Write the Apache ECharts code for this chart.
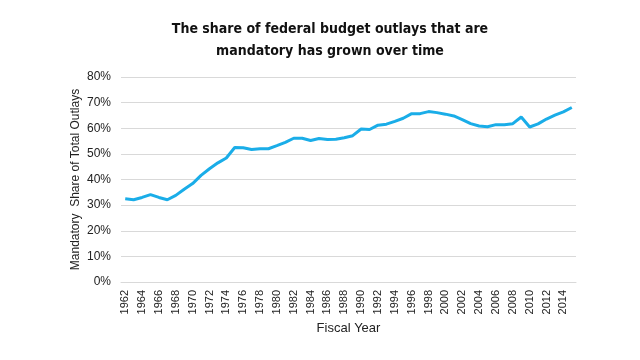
<!DOCTYPE html>
<html><head><meta charset="utf-8">
<script src="https://cdn.jsdelivr.net/npm/echarts@6/dist/echarts.min.js"></script>
<style>html,body{margin:0;padding:0;background:#fff}#c{width:640px;height:360px}</style>
</head><body><div id="c"></div>
<script>
const years = [];
for (let y = 1962; y <= 2015; y++) years.push(String(y));
const mandatoryShare = [32.5,32.1,33.0,34.1,33.0,32.1,33.8,36.2,38.4,41.6,44.2,46.5,48.4,52.5,52.4,51.7,52.0,52.0,53.2,54.5,56.1,56.1,55.2,56.0,55.6,55.7,56.3,57.1,59.7,59.5,61.2,61.6,62.7,63.9,65.7,65.7,66.5,66.1,65.5,64.8,63.4,61.8,60.9,60.6,61.4,61.4,61.8,64.4,60.5,61.7,63.6,65.1,66.4,68.1];
const yTicks = [0,10,20,30,40,50,60,70,80];
const chart = echarts.init(document.getElementById('c'), null, {renderer:'canvas'});
chart.setOption({
  animation:false,
  title:{text:'The share of federal budget outlays that are\nmandatory has grown over time', left:325, textAlign:'center', top:13,
    textStyle:{fontFamily:'DejaVu Sans Condensed', fontWeight:'bold', fontSize:14, color:'#111', lineHeight:22}},
  grid:{left:121, right:64, top:77, bottom:78},
  xAxis:{type:'category', data:years, boundaryGap:true,
    name:'Fiscal Year', nameLocation:'middle', nameGap:40,
    nameTextStyle:{fontFamily:'Liberation Sans', fontSize:13, color:'#222'},
    axisLine:{show:true, lineStyle:{color:'#d9d9d9'}}, axisTick:{show:false},
    axisLabel:{interval:1, rotate:90, fontFamily:'Liberation Sans', fontSize:11, color:'#222', margin:8}},
  yAxis:{type:'value', min:yTicks[0], max:yTicks[yTicks.length-1], interval:10,
    name:'Mandatory  Share of Total Outlays', nameLocation:'middle', nameGap:39, nameMoveOverlap:false,
    nameTextStyle:{fontFamily:'Liberation Sans', fontSize:12, color:'#222'},
    axisLine:{show:false}, axisTick:{show:false},
    splitLine:{lineStyle:{color:'#d9d9d9', width:1}},
    axisLabel:{formatter:'{value}%', fontFamily:'Liberation Sans', fontSize:12, color:'#222', margin:10}},
  series:[{type:'line', data:mandatoryShare, symbol:'none', smooth:false,
    lineStyle:{color:'#1aade8', width:3}}]
});
</script></body></html>
